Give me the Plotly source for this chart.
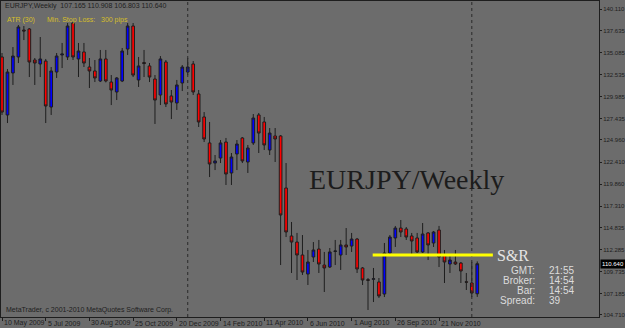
import pandas as pd
import plotly.graph_objects as go

# ---------------- data ----------------
dates = pd.date_range("2009-05-10", periods=88, freq="7D")

opens = [134.56, 127.85, 132.71, 134.56, 137.68, 137.80, 134.21, 133.75, 134.09, 128.77,
         132.82, 134.79, 134.56, 138.49, 134.33, 135.14, 133.40, 132.94, 131.78, 134.33,
         131.66, 130.51, 131.78, 135.48, 138.14, 131.90, 133.92, 133.52, 132.01, 130.16,
         133.98, 130.05, 129.24, 131.55, 132.82, 133.75, 130.28, 127.62, 124.61, 122.29,
         122.87, 124.72, 121.14, 123.34, 125.19, 122.41, 124.61, 127.85, 127.04, 123.80,
         125.42, 125.42, 119.40, 113.85, 113.15, 111.65, 109.45, 111.42, 112.34, 110.49,
         110.26, 112.06, 111.65, 112.81, 112.69, 113.50, 110.15, 108.80, 108.84, 108.53,
         107.14, 111.88, 113.62, 114.77, 114.66, 113.85, 113.62, 112.00, 114.20, 113.04,
         114.54, 111.65, 110.61, 110.84, 110.72, 108.56, 108.41, 107.165]
highs = [135.02, 133.17, 135.71, 138.26, 138.14, 137.91, 134.44, 136.87, 134.33, 133.40,
         135.02, 136.18, 138.49, 138.61, 136.18, 136.18, 134.44, 134.21, 135.37, 135.37,
         132.47, 132.24, 135.60, 138.49, 138.49, 134.56, 135.37, 133.86, 132.47, 134.67,
         134.21, 130.74, 131.90, 133.63, 134.44, 134.09, 130.74, 128.19, 127.04, 123.22,
         124.95, 125.19, 123.45, 124.95, 125.30, 124.38, 127.96, 128.08, 127.62, 126.34,
         126.34, 125.53, 122.29, 115.47, 114.20, 113.96, 112.23, 113.15, 113.39, 112.00,
         112.46, 113.39, 113.39, 114.77, 114.20, 113.62, 110.26, 108.99, 110.15, 108.99,
         113.04, 113.96, 115.01, 115.70, 114.89, 114.20, 114.20, 115.35, 114.31, 114.43,
         115.01, 112.23, 111.65, 112.23, 110.84, 109.57, 110.84, 110.908]
lows = [127.85, 126.92, 131.32, 133.86, 136.52, 132.24, 131.32, 132.24, 126.92, 127.85,
        132.13, 133.28, 134.21, 134.21, 132.24, 133.40, 130.97, 131.66, 131.66, 131.62,
        129.00, 129.58, 131.66, 134.79, 132.24, 131.09, 132.24, 131.66, 126.81, 129.00,
        128.77, 127.38, 128.43, 130.62, 132.47, 130.16, 126.46, 124.72, 120.67, 121.48,
        122.29, 119.75, 119.75, 121.48, 122.29, 121.14, 124.38, 123.45, 123.80, 123.22,
        122.41, 110.49, 113.73, 109.57, 108.76, 109.34, 108.18, 110.84, 109.57, 107.37,
        110.15, 110.49, 109.92, 111.65, 112.00, 109.57, 108.18, 105.29, 106.21, 106.68,
        106.79, 111.65, 112.58, 113.73, 113.39, 111.65, 111.88, 111.88, 111.07, 112.58,
        110.26, 108.41, 109.57, 110.49, 108.41, 107.60, 106.79, 106.803]
closes = [128.19, 132.82, 134.67, 138.03, 137.57, 133.98, 133.86, 134.33, 128.89, 132.94,
          134.67, 134.90, 138.14, 134.56, 135.25, 133.86, 132.94, 132.13, 134.33, 131.78,
          130.74, 132.13, 135.25, 138.14, 132.47, 133.52, 133.80, 132.24, 129.58, 134.33,
          129.12, 129.35, 131.32, 133.40, 133.40, 130.51, 127.04, 125.07, 122.18, 122.53,
          124.61, 121.02, 122.99, 124.49, 122.53, 124.03, 127.50, 125.76, 124.38, 125.76,
          125.07, 116.28, 114.31, 113.15, 111.65, 109.68, 110.84, 112.23, 110.61, 110.15,
          112.00, 112.11, 112.81, 112.58, 113.50, 110.03, 108.76, 108.72, 108.90, 106.91,
          111.88, 113.73, 114.77, 114.31, 113.73, 113.27, 112.00, 114.08, 112.81, 114.31,
          111.42, 110.84, 111.07, 110.61, 109.80, 108.50, 107.25, 110.640]

price_ticks = [140.110, 137.635, 135.085, 132.535, 129.985, 127.435, 124.960, 122.410,
               119.860, 117.310, 114.835, 112.285, 109.735, 107.185, 104.710]
price_tick_text = ["140.110", "137.635", "135.085", "132.535", "129.985", "127.435", "124.960",
                   "122.410", "119.860", "117.310", "114.835", "112.285", "109.735", "107.185",
                   "104.710"]
date_ticks = ["2009-05-10", "2009-07-05", "2009-08-30", "2009-10-25", "2009-12-20",
              "2010-02-14", "2010-04-11", "2010-06-06", "2010-08-01", "2010-09-26", "2010-11-21"]
date_tick_text = ["10 May 2009", "5 Jul 2009", "30 Aug 2009", "25 Oct 2009", "20 Dec 2009",
                  "14 Feb 2010", "11 Apr 2010", "6 Jun 2010", "1 Aug 2010", "26 Sep 2010",
                  "21 Nov 2010"]
separators = ["2010-01-03", "2011-01-02"]
sr_level = 111.65
sr_start, sr_end = "2010-08-28", "2011-01-29"
last_price = 110.640
header = "EURJPY,Weekly  107.165 110.908 106.803 110.640"
info_labels = ["GMT:", "Broker:", "Bar:", "Spread:"]
info_values = ["21:55", "14:54", "14:54", "39"]

# ---------------- style ----------------
BG = "#6c6c6c"
DARK = "#1e1e1e"
SANS = "Liberation Sans, Arial, sans-serif"
SERIF = "Liberation Serif, Times New Roman, serif"
W, H = 625, 328
L, R, T, B = 1, 26, 1, 11
PW, PH = W - L - R, H - T - B


def px(x):
    return (x - L) / PW


def py(y):
    return 1 - (y - T) / PH


fig = go.Figure()
fig.add_trace(go.Candlestick(
    x=dates, open=opens, high=highs, low=lows, close=closes,
    increasing=dict(fillcolor="#0000ff", line=dict(color=DARK, width=1)),
    decreasing=dict(fillcolor="#ff0000", line=dict(color=DARK, width=1)),
    whiskerwidth=0, hoverinfo="skip", showlegend=False,
))

x0 = dates[0] - pd.Timedelta(days=1.3)
x1 = dates[0] + pd.Timedelta(days=765)

shapes = []
for s in separators:
    shapes.append(dict(type="line", xref="x", yref="paper", x0=s, x1=s, y0=0, y1=1,
                       line=dict(color="#2a2a2a", width=1, dash="dot")))
shapes.append(dict(type="line", xref="x", yref="y", x0=sr_start, x1=sr_end,
                   y0=sr_level, y1=sr_level, line=dict(color="#ffff00", width=3)))

ann = []
ann.append(dict(text=header, xref="paper", yref="paper", x=px(3), y=py(6),
                xanchor="left", yanchor="middle", showarrow=False,
                font=dict(family=SANS, size=7, color=DARK)))
for t, xx in [("ATR (30)", 5), ("Min. Stop Loss:", 45), ("300 pips", 99)]:
    ann.append(dict(text=t, xref="paper", yref="paper", x=px(xx), y=py(20),
                    xanchor="left", yanchor="middle", showarrow=False,
                    font=dict(family=SANS, size=7, color="#d4be2a")))
ann.append(dict(text="MetaTrader, c 2001-2010 MetaQuotes Software Corp.", xref="paper",
                yref="paper", x=px(4), y=py(310), xanchor="left", yanchor="middle",
                showarrow=False, font=dict(family=SANS, size=7, color=DARK)))
ann.append(dict(text="EURJPY/Weekly", xref="paper", yref="paper", x=px(406), y=py(179),
                xanchor="center", yanchor="middle", showarrow=False,
                font=dict(family=SERIF, size=28, color="#1c1c1c")))
ann.append(dict(text="S&R", xref="x", yref="y", x=sr_end, y=sr_level, xanchor="left",
                yanchor="middle", xshift=2, showarrow=False,
                font=dict(family=SERIF, size=16, color="#e4e4e4")))
for i, (lab, val) in enumerate(zip(info_labels, info_values)):
    yy = 270 + i * 10.2
    ann.append(dict(text=lab, xref="paper", yref="paper", x=px(537), y=py(yy),
                    xanchor="right", yanchor="middle", showarrow=False,
                    font=dict(family=SANS, size=10, color="#dcdcdc")))
    ann.append(dict(text=val, xref="paper", yref="paper", x=px(547), y=py(yy),
                    xanchor="left", yanchor="middle", showarrow=False,
                    font=dict(family=SANS, size=10, color="#dcdcdc")))
ann.append(dict(text=f"{last_price:.3f}", xref="paper", yref="y", x=1, y=last_price,
                xanchor="left", yanchor="middle", xshift=1, showarrow=False,
                bgcolor="#000000", borderpad=1,
                font=dict(family=SANS, size=6, color="#ffffff")))
# date labels: left-aligned to the right of their tick, as in MetaTrader
for d, t in zip(date_ticks, date_tick_text):
    ann.append(dict(text=t, xref="x", yref="paper", x=d, y=py(323), xanchor="left",
                    yanchor="middle", xshift=0, showarrow=False,
                    font=dict(family=SANS, size=7, color=DARK)))

fig.update_layout(
    width=W, height=H,
    margin=dict(l=L, r=R, t=T, b=B, autoexpand=False),
    paper_bgcolor=BG, plot_bgcolor=BG,
    shapes=shapes, annotations=ann,
    showlegend=False, hovermode=False,
    boxgap=0.3,
    xaxis=dict(type="date", range=[x0, x1], rangeslider=dict(visible=False),
               showgrid=False, zeroline=False, showline=True, mirror=True,
               linecolor=DARK, linewidth=1, ticks="outside", ticklen=3, tickcolor=DARK,
               tickvals=date_ticks, showticklabels=False),
    yaxis=dict(range=[104.478, 141.036], side="right", showgrid=False, zeroline=False,
               showline=True, mirror=True, linecolor=DARK, linewidth=1,
               ticks="outside", ticklen=2, tickcolor=DARK,
               tickvals=price_ticks, ticktext=price_tick_text,
               tickfont=dict(family=SANS, size=6, color=DARK)),
)

fig.write_html("out.html")
